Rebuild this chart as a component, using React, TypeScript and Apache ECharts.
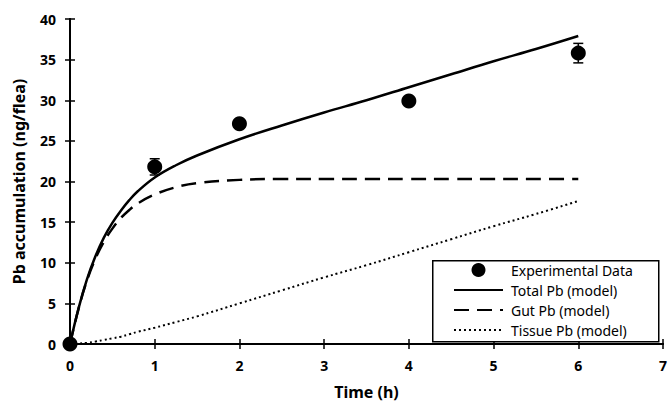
import React, { useEffect, useRef } from "react";
import * as echarts from "echarts";

const expTime = [0, 1, 2, 4, 6];
const expValue = [0, 21.8, 27.1, 29.9, 35.8];
const expError = [0, 1.0, 0, 0, 1.2];

const modelTime = [0, 0.1, 0.2, 0.3, 0.4, 0.5, 0.6, 0.7, 0.8, 1.0, 1.25, 1.5, 2, 2.5, 3, 3.5, 4, 4.5, 5, 5.5, 6];
const totalPb = [0, 4.35, 7.95, 10.8, 13.1, 14.9, 16.4, 17.7, 18.8, 20.5, 22.0, 23.2, 25.2, 26.9, 28.5, 30.0, 31.6, 33.2, 34.8, 36.3, 37.9];
const gutPb = [0, 4.3, 7.8, 10.5, 12.6, 14.2, 15.5, 16.5, 17.3, 18.4, 19.3, 19.8, 20.2, 20.3, 20.3, 20.3, 20.3, 20.3, 20.3, 20.3, 20.3];
const tissuePb = [0, 0.05, 0.15, 0.3, 0.5, 0.7, 0.9, 1.2, 1.5, 2.0, 2.7, 3.4, 5.0, 6.6, 8.2, 9.7, 11.3, 12.9, 14.5, 16.0, 17.6];

const xTicks = [0, 1, 2, 3, 4, 5, 6, 7];
const yTicks = [0, 5, 10, 15, 20, 25, 30, 35, 40];

const legendNames = ["Experimental Data", "Total Pb (model)", "Gut Pb (model)", "Tissue Pb (model)"];

const FONT = "'Noto Sans', 'Open Sans', sans-serif";

export default function App() {
  const ref = useRef<HTMLDivElement>(null);
  useEffect(() => {
    if (!ref.current) return;
    const chart = echarts.init(ref.current, null, { renderer: "svg" });
    const pair = (xs: number[], ys: number[]) => xs.map((x, i) => [x, ys[i]]);
    const axisLine = { show: true, lineStyle: { color: "#000", width: 2 } };
    const axisTick = { show: true, inside: true, length: 5, lineStyle: { color: "#000", width: 1.5 } };
    chart.setOption({
      animation: false,
      textStyle: { fontFamily: FONT },
      grid: { left: 70, right: 4, top: 19, bottom: 57 },
      graphic: [
        {
          type: "rect",
          left: 432,
          top: 260,
          z: 5,
          shape: { width: 226, height: 81 },
          style: { fill: "#fff", stroke: "#000", lineWidth: 1.5 },
        },
      ],
      legend: {
        data: legendNames.map((n, i) =>
          i === 0 ? { name: n } : { name: n, itemStyle: { opacity: 0, color: "rgba(0,0,0,0)", borderWidth: 0 } }
        ),
        orient: "vertical",
        left: 453,
        top: 263,
        itemWidth: 49,
        itemHeight: 14,
        itemGap: 6,
        padding: 0,
        z: 10,
        textStyle: { fontFamily: FONT, fontSize: 14, color: "#000", padding: [0, 0, 0, 3] },
      },
      xAxis: [
        {
          type: "value",
          min: 0,
          max: 7,
          interval: 1,
          name: "Time (h)",
          nameLocation: "middle",
          nameGap: 40,
          nameTextStyle: { fontFamily: FONT, fontSize: 16, fontWeight: "bold", color: "#000" },
          axisLine,
          axisTick,
          splitLine: { show: false },
          axisLabel: { fontFamily: FONT, fontSize: 14, fontWeight: "bold", color: "#000", margin: 14, formatter: (v: number) => (xTicks.includes(v) ? String(v) : "") },
        },
        {
          type: "value",
          position: "top",
          min: 0,
          max: 7,
          interval: 1,
          axisLine,
          axisTick,
          splitLine: { show: false },
          axisLabel: { show: false },
        },
      ],
      yAxis: [
        {
          type: "value",
          min: 0,
          max: 40,
          interval: 5,
          name: "Pb accumulation (ng/flea)",
          nameLocation: "middle",
          nameGap: 43,
          nameTextStyle: { fontFamily: FONT, fontSize: 16, fontWeight: "bold", color: "#000" },
          axisLine,
          axisTick,
          splitLine: { show: false },
          axisLabel: { fontFamily: FONT, fontSize: 14, fontWeight: "bold", color: "#000", margin: 14, formatter: (v: number) => (yTicks.includes(v) ? String(v) : "") },
        },
        {
          type: "value",
          position: "right",
          min: 0,
          max: 40,
          interval: 5,
          axisLine,
          axisTick,
          splitLine: { show: false },
          axisLabel: { show: false },
        },
      ],
      series: [
        {
          name: "Total Pb (model)",
          type: "line",
          data: pair(modelTime, totalPb),
          smooth: 0.4,
          symbol: "none",
          lineStyle: { color: "#000", width: 2.5, type: "solid" },
          itemStyle: { color: "#000" },
          z: 3,
        },
        {
          name: "Gut Pb (model)",
          type: "line",
          data: pair(modelTime, gutPb),
          smooth: 0.4,
          symbol: "none",
          lineStyle: { color: "#000", width: 2.5, type: [15, 8] },
          itemStyle: { color: "#000" },
          z: 3,
        },
        {
          name: "Tissue Pb (model)",
          type: "line",
          data: pair(modelTime, tissuePb),
          smooth: 0.4,
          symbol: "none",
          lineStyle: { color: "#000", width: 2, type: [2, 3] },
          itemStyle: { color: "#000" },
          z: 3,
        },
        {
          name: "errorbars",
          type: "custom",
          data: expTime.map((t, i) => [t, expValue[i] - expError[i], expValue[i] + expError[i]]),
          encode: { x: 0, y: [1, 2] },
          clip: false,
          z: 4,
          renderItem: (params: any, api: any) => {
            const x = api.value(0);
            const lo = api.coord([x, api.value(1)]);
            const hi = api.coord([x, api.value(2)]);
            const w = 5;
            const st = { stroke: "#000", lineWidth: 1.5 };
            return {
              type: "group",
              children: [
                { type: "line", shape: { x1: lo[0], y1: lo[1], x2: hi[0], y2: hi[1] }, style: st },
                { type: "line", shape: { x1: lo[0] - w, y1: lo[1], x2: lo[0] + w, y2: lo[1] }, style: st },
                { type: "line", shape: { x1: hi[0] - w, y1: hi[1], x2: hi[0] + w, y2: hi[1] }, style: st },
              ],
            };
          },
        },
        {
          name: "Experimental Data",
          type: "scatter",
          data: pair(expTime, expValue),
          symbol: "circle",
          symbolSize: 15,
          clip: false,
          itemStyle: { color: "#000", opacity: 1 },
          z: 6,
        },
      ],
    });
    return () => chart.dispose();
  }, []);
  return <div ref={ref} style={{ width: 670, height: 405, position: "absolute", left: 0, top: 0 }} />;
}
